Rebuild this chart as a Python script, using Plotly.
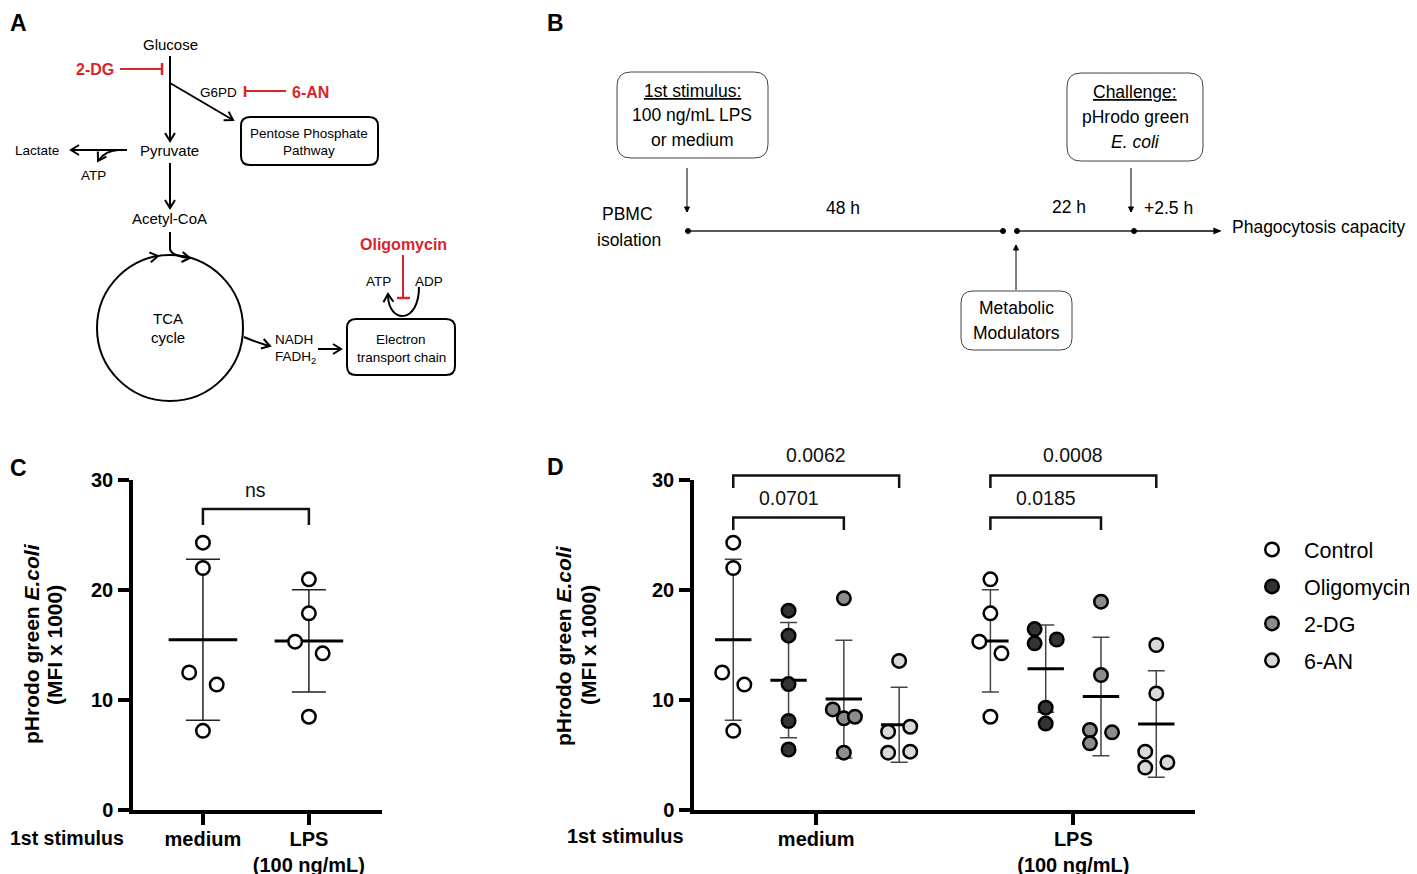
import numpy as np
import plotly.graph_objects as go

W, H = 1417, 874
OX, OY = 8, 8          # page offset of the figure inside the html body
FONT = "Liberation Sans, Arial, sans-serif"

# ---------------- data ----------------
stim_labels = ["medium", "LPS<br>(100 ng/mL)"]
treatments = ["Control", "Oligomycin", "2-DG", "6-AN"]
treat_colors = ["#ffffff", "#333333", "#8c8c8c", "#d9d9d9"]
y_ticks = [0, 10, 20, 30]

# Panel C: phagocytosis after 1st stimulus
c_medium = [24.3, 22.0, 12.5, 11.4, 7.2]
c_lps = [20.97, 17.88, 15.3, 14.24, 8.48]
c_jit_medium = [0, 0, -1, 1, 0]
c_jit_lps = [0, 0, -1, 1, 0]
c_pvalue = "ns"

# Panel D: with metabolic modulators
d_med_control = [24.3, 22.0, 12.5, 11.4, 7.2]
d_med_oligo = [18.12, 15.85, 11.45, 8.09, 5.5]
d_med_2dg = [19.24, 9.14, 8.33, 8.48, 5.21]
d_med_6an = [13.55, 7.12, 7.57, 5.21, 5.3]
d_lps_control = [20.97, 17.88, 15.3, 14.24, 8.48]
d_lps_oligo = [16.45, 15.15, 15.5, 9.3, 7.86]
d_lps_2dg = [18.94, 12.27, 7.27, 7.06, 6.06]
d_lps_6an = [15.0, 10.6, 5.3, 4.32, 3.86]

d_jit_med = [[0, 0, -1, 1, 0], [0, 0, 0, 0, 0], [0, -1, 0, 1, 0], [0, -1, 1, -1, 1]]
d_jit_lps = [[0, 0, -1, 1, 0], [-1, -1, 1, 0, 0], [0, 0, -1, 1, -1], [0, 0, -1, 1, -1]]

d_pvals_medium = ["0.0701", "0.0062"]   # Control vs 2-DG, Control vs 6-AN
d_pvals_lps = ["0.0185", "0.0008"]

# ---------------- helpers ----------------
def fx(p):
    return (p - OX) / W

def fy(p):
    return 1 - (p - OY) / H

fig = go.Figure()
shapes, annos = [], []
CX, CY = "x3", "y3"


def cline(x0, y0, x1, y1, w=2.0, c="black"):
    shapes.append(dict(type="line", xref=CX, yref=CY, x0=x0, y0=y0, x1=x1, y1=y1,
                       line=dict(color=c, width=w)))


def cpath(d, w=2.0, c="black", fill="rgba(0,0,0,0)"):
    shapes.append(dict(type="path", xref=CX, yref=CY, path=d,
                       line=dict(color=c, width=w), fillcolor=fill))


def head(hx, hy, ux, uy, L=8, Wd=5, w=2.0, c="black", filled=False):
    n = (ux * ux + uy * uy) ** 0.5
    ux, uy = ux / n, uy / n
    px, py = -uy, ux
    ax_, ay_ = hx - L * ux + Wd * px, hy - L * uy + Wd * py
    bx_, by_ = hx - L * ux - Wd * px, hy - L * uy - Wd * py
    if filled:
        cpath(f"M{ax_},{ay_} L{hx},{hy} L{bx_},{by_} Z", w, c, fill=c)
    else:
        cpath(f"M{ax_},{ay_} L{hx},{hy} L{bx_},{by_}", w, c)


def arrow(x0, y0, x1, y1, w=2.0, L=8, Wd=5, filled=False):
    cline(x0, y0, x1, y1, w)
    head(x1, y1, x1 - x0, y1 - y0, L, Wd, w, filled=filled)


def rrect(x0, y0, x1, y1, r=8, w=2.0, c="black"):
    d = (f"M{x0+r},{y0} L{x1-r},{y0} Q{x1},{y0} {x1},{y0+r} L{x1},{y1-r} "
         f"Q{x1},{y1} {x1-r},{y1} L{x0+r},{y1} Q{x0},{y1} {x0},{y1-r} "
         f"L{x0},{y0+r} Q{x0},{y0} {x0+r},{y0} Z")
    cpath(d, w, c)


def text(x, y, s, size=14, color="black", xanchor="center", angle=0, xref=CX, yref=CY,
         yanchor="middle"):
    annos.append(dict(x=x, y=y, xref=xref, yref=yref, text=s, showarrow=False,
                      xanchor=xanchor, yanchor=yanchor, textangle=angle, borderpad=0,
                      font=dict(size=size, color=color, family=FONT)))


RED = "#d7262b"

# ---------------- Panel A: pathway diagram ----------------
text(18, 9, "<b>A</b>", 23, yanchor="top")
text(170, 44, "Glucose", 15)
arrow(170, 56, 170, 141)
arrow(170, 83, 233, 120)
text(95, 69, "<b>2-DG</b>", 16, RED)
cline(120, 69, 162, 69, 2, RED)
cline(162, 63, 162, 75, 2.5, RED)
text(218, 92, "G6PD", 13.5)
cline(245, 86, 245, 97, 2.5, RED)
cline(245, 91, 286, 91, 2, RED)
text(310, 92, "<b>6-AN</b>", 16, RED)
rrect(241, 117, 378, 165, 9)
text(309, 133, "Pentose Phosphate", 13.5)
text(309, 150, "Pathway", 13.5)
text(169, 150, "Pyruvate", 15)
arrow(127, 150, 71, 150)
text(37, 150, "Lactate", 13.5)
cpath("M118,150 Q105,151 99,160")
head(98, 161, -0.6, 1.0)
text(93, 175, "ATP", 13.5)
arrow(170, 163, 170, 208)
text(169, 218, "Acetyl-CoA", 15)
cpath("M170,232 L170,249 Q171,256 189,258")
head(190, 258, 1, 0.12)
shapes.append(dict(type="circle", xref=CX, yref=CY, x0=97, y0=255, x1=243, y1=401,
                   line=dict(color="black", width=2)))
head(158, 256, 0.99, -0.16)
text(168, 318, "TCA", 15)
text(168, 337, "cycle", 15)
cpath("M244,337 Q253,341 269,346")
head(270, 346, 0.96, 0.28)
text(294, 339, "NADH", 13.5)
text(295, 357, "FADH<sub>2</sub>", 13.5)
arrow(318, 349, 341, 349)
rrect(347, 319, 455, 375, 9)
text(401, 339, "Electron", 13.5)
text(401, 357, "transport chain", 13.5)
text(403, 244, "<b>Oligomycin</b>", 16, RED)
cline(403, 255, 403, 298, 2, RED)
cline(397, 298, 410, 298, 2.5, RED)
text(378, 281, "ATP", 13.5)
text(429, 281, "ADP", 13.5)
cpath("M419,287 C419,324 389,324 388,296")
head(388, 294, -0.05, -1)

# ---------------- Panel B: timeline ----------------
BC = "#222222"
text(555, 9, "<b>B</b>", 23, yanchor="top")
rrect(617, 72, 768, 158, 14, 1.0, "#444")
text(692, 91, "<u>1st stimulus:</u>", 17.5)
text(692, 115, "100 ng/mL LPS", 17.5)
text(692, 140, "or medium", 17.5)
arrow(687, 168, 687, 212, 1.0, 5, 2.5, filled=True)
text(627, 214, "PBMC", 17.5)
text(629, 240, "isolation", 17.5)
cline(688, 231, 1003, 231, 1.6, BC)
cline(1017, 231, 1134, 231, 1.6, BC)
arrow(1134, 231, 1220, 231, 1.3, 6, 2.5, filled=True)
for xd in (688, 1003, 1017, 1134):
    shapes.append(dict(type="circle", xref=CX, yref=CY, x0=xd - 2.5, x1=xd + 2.5,
                       y0=231 - 2.5, y1=231 + 2.5, fillcolor="black",
                       line=dict(color="black", width=1)))
text(843, 208, "48 h", 17.5)
text(1069, 207, "22 h", 17.5)
text(1168, 208, "+2.5 h", 17.5)
rrect(1067, 73, 1203, 161, 14, 1.0, "#444")
text(1135, 92, "<u>Challenge:</u>", 17.5)
text(1135, 117, "pHrodo green", 17.5)
text(1135, 142, "<i>E. coli</i>", 17.5)
arrow(1131, 168, 1131, 212, 1.0, 5, 2.5, filled=True)
arrow(1016, 290, 1016, 245, 1.0, 5, 2.5, filled=True)
rrect(961, 291, 1072, 350, 12, 1.0, "#444")
text(1016, 308, "Metabolic", 17.5)
text(1016, 333, "Modulators", 17.5)
text(1231, 227, "Phagocytosis capacity", 17.5, xanchor="left")

# ---------------- Panel C ----------------
C_SPREAD = 0.13
c_groups = [c_medium, c_lps]
c_jits = [c_jit_medium, c_jit_lps]
c_pos = [0, 1]
c_means = [float(np.mean(v)) for v in c_groups]
c_sds = [float(np.std(v, ddof=1)) for v in c_groups]

fig.add_trace(go.Scatter(
    x=c_pos, y=c_means, mode="markers", xaxis="x", yaxis="y", showlegend=False,
    marker=dict(symbol="line-ew", size=49, color="black", line=dict(width=3, color="black")),
    error_y=dict(type="data", array=c_sds, visible=True, width=17, thickness=1.5, color="#222"),
    hoverinfo="skip"))
cx_pts, cy_pts = [], []
for p, vals, jit in zip(c_pos, c_groups, c_jits):
    cx_pts += [p + j * C_SPREAD for j in jit]
    cy_pts += vals
fig.add_trace(go.Scatter(
    x=cx_pts, y=cy_pts, mode="markers", xaxis="x", yaxis="y", showlegend=False,
    marker=dict(symbol="circle", size=13.5, color=treat_colors[0],
                line=dict(width=2.5, color="black"))))

YMAX = y_ticks[-1]


def bracket(xr, yr, xa, xb, top, drop, label, ytext):
    shapes.append(dict(type="path", xref=xr, yref=yr + " domain",
                       path=f"M{xa},{drop / YMAX} L{xa},{top / YMAX} L{xb},{top / YMAX} L{xb},{drop / YMAX}",
                       line=dict(color="#111", width=2.5)))
    annos.append(dict(x=(xa + xb) / 2, y=ytext / YMAX, xref=xr, yref=yr + " domain",
                      text=label, showarrow=False, xanchor="center", yanchor="middle",
                      font=dict(size=19.5, color="#111", family=FONT)))


bracket("x", "y", c_pos[0], c_pos[1], 27.36, 25.9, c_pvalue, 29.1)

# ---------------- Panel D ----------------
D_SPREAD = 0.2
d_centers = [1.5, 6.15]
t_offsets = [-1.5, -0.5, 0.5, 1.5]
d_med = [d_med_control, d_med_oligo, d_med_2dg, d_med_6an]
d_lps = [d_lps_control, d_lps_oligo, d_lps_2dg, d_lps_6an]

mx, my, ms = [], [], []
for ci, groups in enumerate([d_med, d_lps]):
    for ti, vals in enumerate(groups):
        mx.append(d_centers[ci] + t_offsets[ti])
        my.append(float(np.mean(vals)))
        ms.append(float(np.std(vals, ddof=1)))
fig.add_trace(go.Scatter(
    x=mx, y=my, mode="markers", xaxis="x2", yaxis="y2", showlegend=False,
    marker=dict(symbol="line-ew", size=26, color="black", line=dict(width=3, color="black")),
    error_y=dict(type="data", array=ms, visible=True, width=8.5, thickness=1.5, color="#444"),
    hoverinfo="skip"))

for ti, name in enumerate(treatments):
    xs, ys = [], []
    for ci, (groups, jits) in enumerate([(d_med, d_jit_med), (d_lps, d_jit_lps)]):
        xs += [d_centers[ci] + t_offsets[ti] + j * D_SPREAD for j in jits[ti]]
        ys += groups[ti]
    fig.add_trace(go.Scatter(
        x=xs, y=ys, mode="markers", xaxis="x2", yaxis="y2", name=name,
        legendgroup=name,
        marker=dict(symbol="circle", size=13.5, color=treat_colors[ti],
                    line=dict(width=2.5, color="black"))))

for ci, pv in enumerate([d_pvals_medium, d_pvals_lps]):
    xc = d_centers[ci] + t_offsets[0]
    bracket("x2", "y2", xc, d_centers[ci] + t_offsets[2], 26.6, 25.45, pv[0], 28.38)
    bracket("x2", "y2", xc, d_centers[ci] + t_offsets[3], 30.42, 29.27, pv[1], 32.24)

# ---------------- common texts for C & D ----------------
text(18, 468, "<b>C</b>", 23)
text(555, 467, "<b>D</b>", 23)
text(31, 644, "<b>pHrodo green <i>E.coli</i></b>", 21, angle=-90)
text(54, 645, "<b>(MFI x 1000)</b>", 21, angle=-90)
text(563, 646, "<b>pHrodo green <i>E.coli</i></b>", 21, angle=-90)
text(588, 645, "<b>(MFI x 1000)</b>", 21, angle=-90)
text(9, 838, "<b>1st stimulus</b>", 19.5, xanchor="left")
text(625, 836, "<b>1st stimulus</b>", 20)

# ---------------- axes ----------------
ydom = [fy(810), fy(480)]
ax_common = dict(showline=True, linewidth=3.5, linecolor="black", ticks="outside",
                 ticklen=11, tickwidth=3.5, tickcolor="black", showgrid=False,
                 zeroline=False, fixedrange=True, automargin=False,
                 tickfont=dict(size=20, family=FONT, color="black", weight="bold"))

fig.update_layout(
    template="none",
    width=W, height=H, margin=dict(l=0, r=0, t=0, b=0, autoexpand=False),
    paper_bgcolor="white", plot_bgcolor="rgba(0,0,0,0)",
    font=dict(family=FONT, color="black"),
    xaxis=dict(domain=[fx(133), fx(382)], range=[-0.66, 1.69], anchor="y",
               tickvals=c_pos, ticktext=stim_labels, ticklabelstandoff=-3, **ax_common),
    yaxis=dict(domain=ydom, range=[y_ticks[0], y_ticks[-1]], anchor="x",
               tickvals=y_ticks, ticklabelstandoff=1, **ax_common),
    xaxis2=dict(domain=[fx(694), fx(1195)], range=[-0.71, 8.35], anchor="y2",
                tickvals=d_centers, ticktext=stim_labels, ticklabelstandoff=-3, **ax_common),
    yaxis2=dict(domain=ydom, range=[y_ticks[0], y_ticks[-1]], anchor="x2",
                tickvals=y_ticks, ticklabelstandoff=1, **ax_common),
    xaxis3=dict(domain=[0, 1], range=[OX, W + OX], anchor="y3", visible=False,
                fixedrange=True, automargin=False),
    yaxis3=dict(domain=[0, 1], range=[H + OY, OY], anchor="x3", visible=False,
                fixedrange=True, automargin=False),
    showlegend=True,
    legend=dict(x=fx(1240), y=fy(529), xanchor="left", yanchor="top",
                font=dict(size=21.5, family=FONT, color="black"),
                traceorder="grouped", tracegroupgap=6, itemwidth=54,
                bgcolor="rgba(0,0,0,0)", borderwidth=0),
    shapes=shapes, annotations=annos,
)

fig.write_html("out.html")
